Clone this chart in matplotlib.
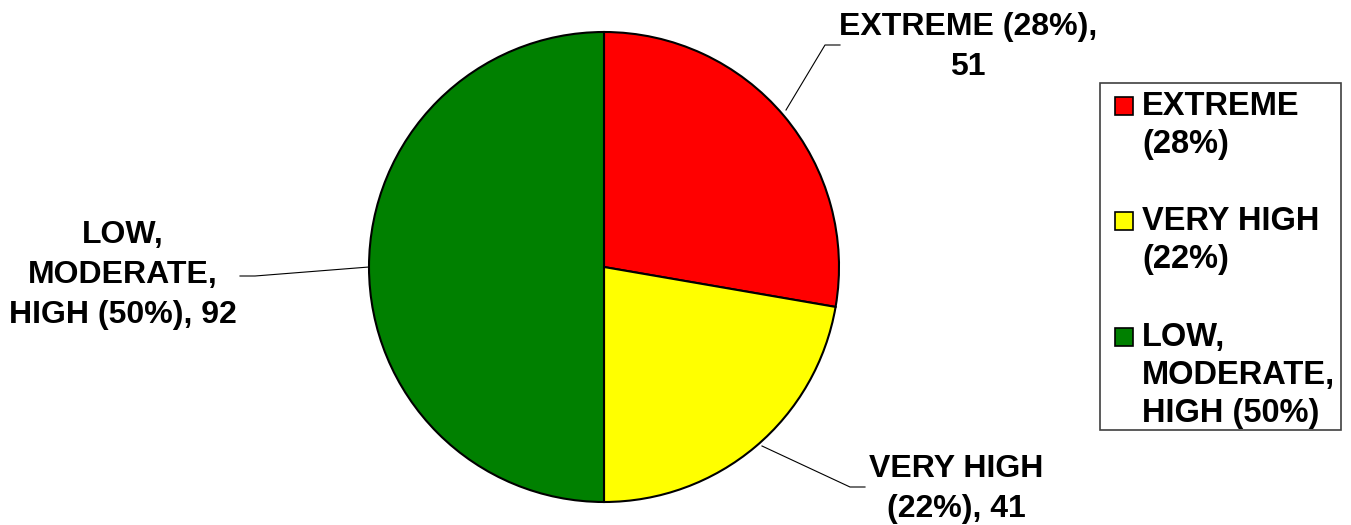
import matplotlib
matplotlib.use('Agg')
import matplotlib.pyplot as plt
from matplotlib.patches import Rectangle

# data
categories = ['EXTREME', 'VERY HIGH', 'LOW, MODERATE, HIGH']
counts = [51, 41, 92]
percents = [28, 22, 50]
colors = ['#ff0000', '#ffff00', '#008000']

W, H = 1351, 525
plt.rcParams['font.family'] = ['Liberation Sans', 'DejaVu Sans']
plt.rcParams['font.weight'] = 'bold'

fig = plt.figure(figsize=(W / 100, H / 100), dpi=100)
ax = fig.add_axes([0, 0, 1, 1])

cx, cy, r = 604, H - 267, 235
ax.pie(counts, colors=colors, startangle=90, counterclock=False,
       center=(cx, cy), radius=r, frame=True,
       wedgeprops=dict(edgecolor='black', linewidth=1.5))
ax.set_xlim(0, W)
ax.set_ylim(0, H)
ax.set_aspect('equal')
ax.axis('off')

fs_lab = 23
fs_leg = 23.5

# data labels: split into lines the way the chart wraps them
lab_txt = [
    f'{categories[0]} ({percents[0]}%),\n{counts[0]}',
    f'{categories[1]}\n({percents[1]}%), {counts[1]}',
    'LOW,\nMODERATE,\n' + f'HIGH ({percents[2]}%), {counts[2]}',
]
# text centre, leader-line points (pixel coordinates, y from top)
lab_pos = [(968, 47), (956, 489), (123, 275)]
leaders = [
    [(786, 110), (825, 45), (840, 45)],
    [(762, 446), (850, 487), (865, 487)],
    [(369, 267), (255, 276), (240, 276)],
]
for txt, (tx, ty), pts in zip(lab_txt, lab_pos, leaders):
    ax.text(tx, H - ty, txt, ha='center', va='center', fontsize=fs_lab,
            fontweight='bold', linespacing=1.42)
    ax.plot([p[0] for p in pts], [H - p[1] for p in pts], color='black', lw=0.8)

# legend box
ax.add_patch(Rectangle((1100, H - 430), 241, 347, facecolor='white',
                       edgecolor='#404040', lw=1.2, zorder=3))
leg_lines = [
    [categories[0], f'({percents[0]}%)'],
    [categories[1], f'({percents[1]}%)'],
    ['LOW,', 'MODERATE,', f'HIGH ({percents[2]}%)'],
]
leg_y = [106, 221, 337]
step = 38
for lines, col, y in zip(leg_lines, colors, leg_y):
    ax.add_patch(Rectangle((1115, H - y - 9), 18, 18, facecolor=col,
                           edgecolor='black', lw=1.2, zorder=4))
    for k, line in enumerate(lines):
        ax.text(1142, H - (y + k * step) - 9, line, ha='left', va='baseline',
                fontsize=fs_leg, fontweight='bold', zorder=5)

fig.savefig('out.png', dpi=100)
